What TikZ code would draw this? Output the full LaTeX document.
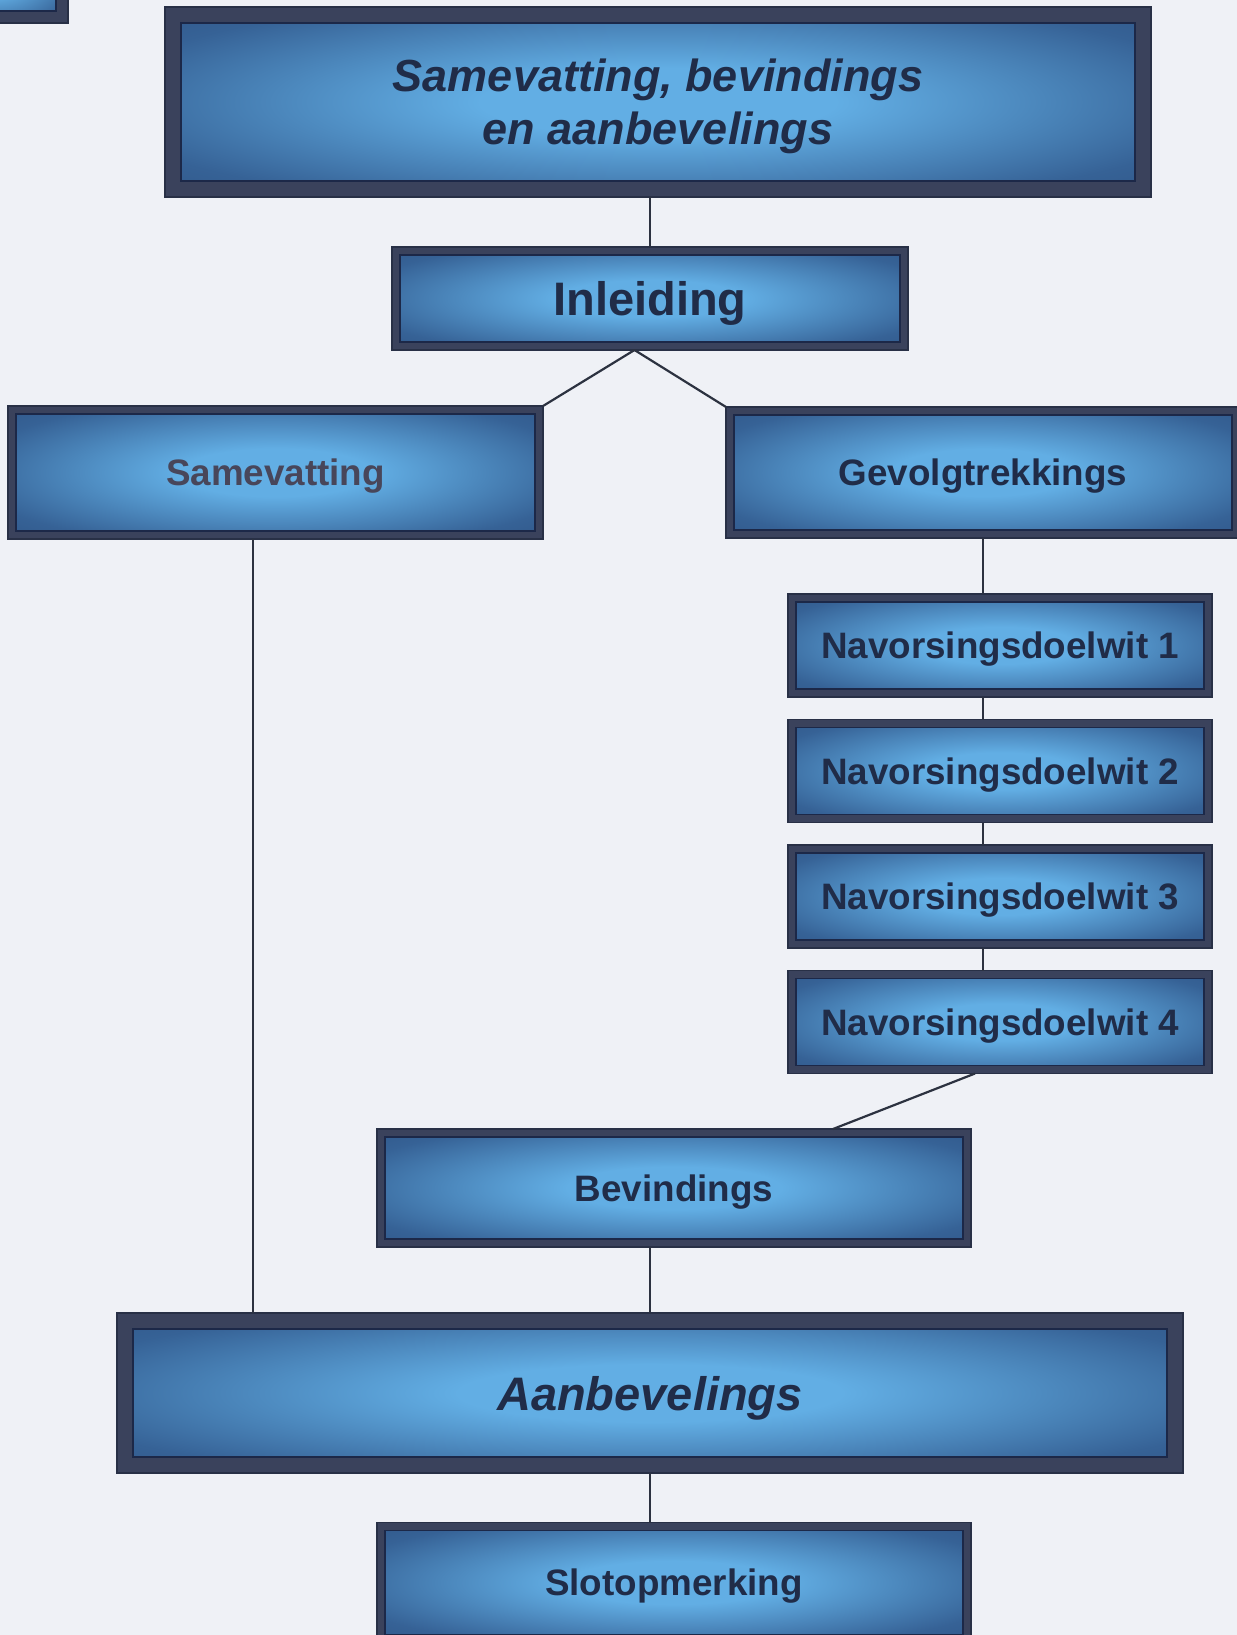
\documentclass[tikz,border=0pt]{standalone}
\usepackage{fontspec}
\setmainfont{Liberation Sans}
\definecolor{bgc}{RGB}{239,241,246}
\definecolor{framec}{RGB}{58,66,92}
\definecolor{outc}{RGB}{40,48,70}
\definecolor{innerc}{RGB}{28,40,72}
\definecolor{glowc}{RGB}{98,174,228}
\definecolor{edgec}{RGB}{54,98,150}
\definecolor{deepc}{RGB}{42,76,124}
\definecolor{txtc}{RGB}{32,44,72}
\definecolor{samc}{RGB}{72,70,90}
\definecolor{linec}{RGB}{44,50,64}
\pgfdeclareradialshading{boxglow}{\pgfpoint{0bp}{0bp}}{color(0bp)=(glowc); color(9bp)=(glowc); color(29bp)=(edgec); color(44bp)=(deepc); color(72bp)=(deepc)}
\tikzset{
  fw/.store in=\boxfw, fw=4pt,
  box/.style={draw=outc, line width=0.6pt, fill=framec, inner sep=0pt, outer sep=0pt,
    text=txtc, text depth=0pt, font=\bfseries\fontsize{18.4}{22}\selectfont,
    path picture={
      \shade[shading=boxglow] ([shift={(\boxfw,\boxfw)}]path picture bounding box.south west) rectangle ([shift={(-\boxfw,-\boxfw)}]path picture bounding box.north east);
      \draw[innerc, line width=0.9pt] ([shift={(\boxfw,\boxfw)}]path picture bounding box.south west) rectangle ([shift={(-\boxfw,-\boxfw)}]path picture bounding box.north east);
    }},
  bigtext/.style={font=\bfseries\itshape\fontsize{23.5}{27}\selectfont},
  conn/.style={draw=linec, line width=1.1pt},
}
\begin{document}
\begin{tikzpicture}[x=0.5pt, y=-0.5pt]
\fill[bgc] (0,0) rectangle (1237,1635);
\useasboundingbox (0,0) rectangle (1237,1635);
\clip (0,0) rectangle (1237,1635);

\node[box, fw=6pt, minimum width=78pt, minimum height=43pt] (corner) at (-10,-20) {};
\node[box, fw=8pt, minimum width=493pt, minimum height=95pt, align=center,
      font=\bfseries\itshape\fontsize{22.5}{26.5}\selectfont] (title) at (658,102)
      {Samevatting, bevindings\\en aanbevelings};
\node[box, minimum width=258pt, minimum height=51.5pt,
      font=\bfseries\fontsize{23.5}{27}\selectfont] (inleiding) at (650,298.5) {Inleiding};
\node[box, minimum width=267.5pt, minimum height=66.5pt, text=samc] (samev) at (275.5,472.5) {Samevatting};
\node[box, minimum width=257pt, minimum height=65.5pt] (gevolg) at (983,472.5) {Gevolgtrekkings};
\node[box, minimum width=212pt, minimum height=51.5pt] (nav1) at (1000,645.5) {Navorsingsdoelwit 1};
\node[box, minimum width=212pt, minimum height=51.5pt] (nav2) at (1000,771) {Navorsingsdoelwit 2};
\node[box, minimum width=212pt, minimum height=51.5pt] (nav3) at (1000,896.5) {Navorsingsdoelwit 3};
\node[box, minimum width=212pt, minimum height=51.5pt] (nav4) at (1000,1022) {Navorsingsdoelwit 4};
\node[box, minimum width=297pt, minimum height=59pt] (bevind) at (674,1188) {Bevindings};
\node[box, fw=8pt, minimum width=533pt, minimum height=80pt, bigtext] (aanbev) at (650,1393) {Aanbevelings};
\node[box, minimum width=297pt, minimum height=60pt] (slot) at (674,1582.5) {Slotopmerking};

\coordinate (apex) at ([xshift=-7.75pt]inleiding.south);
\coordinate (samx) at ([xshift=-11.25pt]samev.south);
\coordinate (navout) at ([xshift=-12.5pt]nav4.south);
\coordinate (bevin) at ([xshift=79.5pt]bevind.north);

\draw[conn] (inleiding.north) -- (inleiding.north |- title.south);
\draw[conn] (apex) -- (samev.north east);
\draw[conn] (apex) -- (gevolg.north west);
\draw[conn] (samx) -- (samx |- aanbev.north);
\draw[conn] (gevolg.south) -- (gevolg.south |- nav1.north);
\draw[conn] (nav1.south -| gevolg.south) -- (nav2.north -| gevolg.south);
\draw[conn] (nav2.south -| gevolg.south) -- (nav3.north -| gevolg.south);
\draw[conn] (nav3.south -| gevolg.south) -- (nav4.north -| gevolg.south);
\draw[conn] (navout) -- (bevin);
\draw[conn] (aanbev.north) -- (aanbev.north |- bevind.south);
\draw[conn] (aanbev.south) -- (aanbev.south |- slot.north);
\end{tikzpicture}
\end{document}
